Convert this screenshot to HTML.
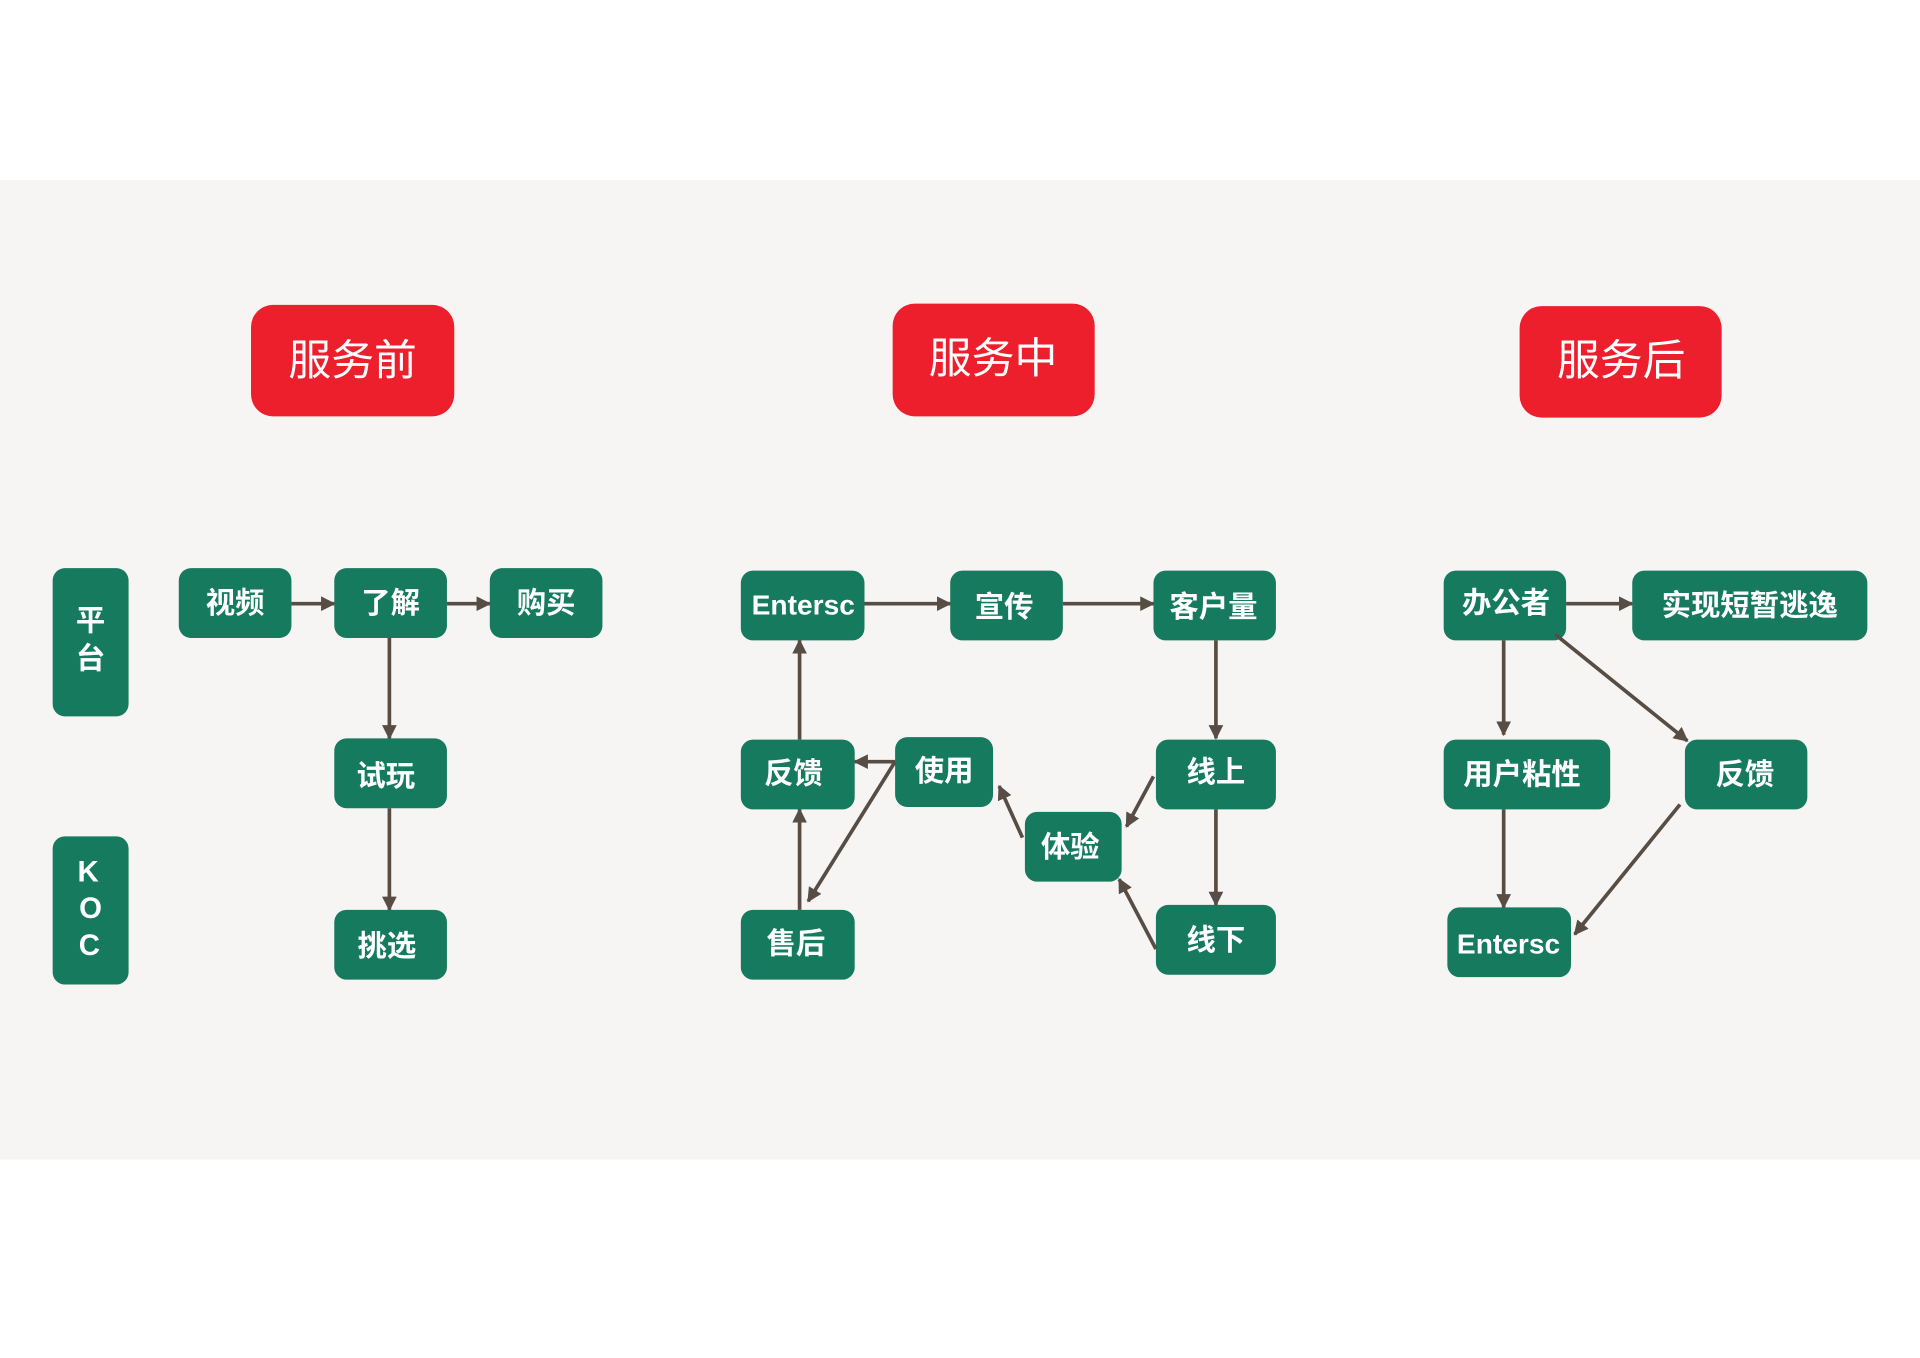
<!DOCTYPE html>
<html><head><meta charset="utf-8"><style>
html,body{margin:0;padding:0;background:#fff;}
svg{display:block;}
text{font-family:"Liberation Sans","Noto Sans CJK SC",sans-serif;fill:#fff;text-anchor:middle;dominant-baseline:central;}
.n text{font-weight:bold;}
</style></head><body>
<svg width="1920" height="1358" viewBox="0 0 1568 1109" preserveAspectRatio="none" xmlns="http://www.w3.org/2000/svg">
<defs>
<marker id="a" viewBox="0 0 10 10" refX="9" refY="5" markerWidth="4" markerHeight="4" orient="auto" markerUnits="strokeWidth">
<path d="M0,0 L10,5 L0,10 z" fill="#574d44"/></marker>
</defs>
<rect x="0" y="147" width="1568" height="800" fill="#f6f5f3"/>
<g fill="#ee1f2c">
<rect x="205" y="249" width="166" height="91" rx="18"/>
<rect x="729" y="248" width="165" height="92" rx="18"/>
<rect x="1241" y="250" width="165" height="91" rx="18"/>
</g>
<g font-size="35">
<text x="288" y="295">服务前</text>
<text x="811" y="293">服务中</text>
<text x="1324" y="295">服务后</text>
</g>
<g fill="#167a5f">
<rect x="43" y="464" width="62" height="121" rx="10"/>
<rect x="43" y="683" width="62" height="121" rx="10"/>
<rect x="146" y="464" width="92" height="57" rx="10"/>
<rect x="273" y="464" width="92" height="57" rx="10"/>
<rect x="400" y="464" width="92" height="57" rx="10"/>
<rect x="273" y="603" width="92" height="57" rx="10"/>
<rect x="273" y="743" width="92" height="57" rx="10"/>
<rect x="605" y="466" width="101" height="57" rx="10"/>
<rect x="776" y="466" width="92" height="57" rx="10"/>
<rect x="942" y="466" width="100" height="57" rx="10"/>
<rect x="605" y="604" width="93" height="57" rx="10"/>
<rect x="731" y="602" width="80" height="57" rx="10"/>
<rect x="944" y="604" width="98" height="57" rx="10"/>
<rect x="837" y="663" width="79" height="57" rx="10"/>
<rect x="605" y="743" width="93" height="57" rx="10"/>
<rect x="944" y="739" width="98" height="57" rx="10"/>
<rect x="1179" y="466" width="100" height="57" rx="10"/>
<rect x="1333" y="466" width="192" height="57" rx="10"/>
<rect x="1179" y="604" width="136" height="57" rx="10"/>
<rect x="1376" y="604" width="100" height="57" rx="10"/>
<rect x="1182" y="741" width="101" height="57" rx="10"/>
</g>
<g font-size="24" class="n">
<text x="74" y="507">平</text><text x="74" y="538">台</text>
<text x="72" y="712">K</text><text x="74" y="742">O</text><text x="73" y="772">C</text>
<text x="192" y="493">视频</text>
<text x="319" y="493">了解</text>
<text x="446" y="493">购买</text>
<text x="315" y="634">试玩</text>
<text x="316" y="773">挑选</text>
<text x="656" y="494" font-size="23">Entersc</text>
<text x="820" y="496">宣传</text>
<text x="991" y="496">客户量</text>
<text x="648" y="632">反馈</text>
<text x="771" y="630">使用</text>
<text x="993" y="631">线上</text>
<text x="874" y="692">体验</text>
<text x="650" y="771">售后</text>
<text x="993" y="768">线下</text>
<text x="1230" y="493">办公者</text>
<text x="1429" y="495">实现短暂逃逸</text>
<text x="1243" y="633">用户粘性</text>
<text x="1425" y="633">反馈</text>
<text x="1232" y="771" font-size="23">Entersc</text>
</g>
<g stroke="#574d44" stroke-width="3" fill="none" marker-end="url(#a)">
<line x1="238" y1="493" x2="273" y2="493"/>
<line x1="365" y1="493" x2="400" y2="493"/>
<line x1="318" y1="521" x2="318" y2="603"/>
<line x1="318" y1="660" x2="318" y2="743"/>
<line x1="706" y1="493" x2="776" y2="493"/>
<line x1="868" y1="493" x2="942" y2="493"/>
<line x1="993" y1="523" x2="993" y2="603"/>
<line x1="993" y1="661" x2="993" y2="739"/>
<line x1="653" y1="604" x2="653" y2="523"/>
<line x1="653" y1="743" x2="653" y2="661"/>
<line x1="731" y1="622" x2="698" y2="622"/>
<line x1="731" y1="622" x2="660" y2="736"/>
<line x1="942" y1="634" x2="920" y2="675"/>
<line x1="944" y1="775" x2="914" y2="718"/>
<line x1="835" y1="684" x2="816" y2="642"/>
<line x1="1279" y1="493" x2="1333" y2="493"/>
<line x1="1228" y1="523" x2="1228" y2="600"/>
<line x1="1270" y1="518" x2="1378" y2="605"/>
<line x1="1228" y1="661" x2="1228" y2="741"/>
<line x1="1372" y1="657" x2="1286" y2="763"/>
</g>
</svg>
</body></html>
